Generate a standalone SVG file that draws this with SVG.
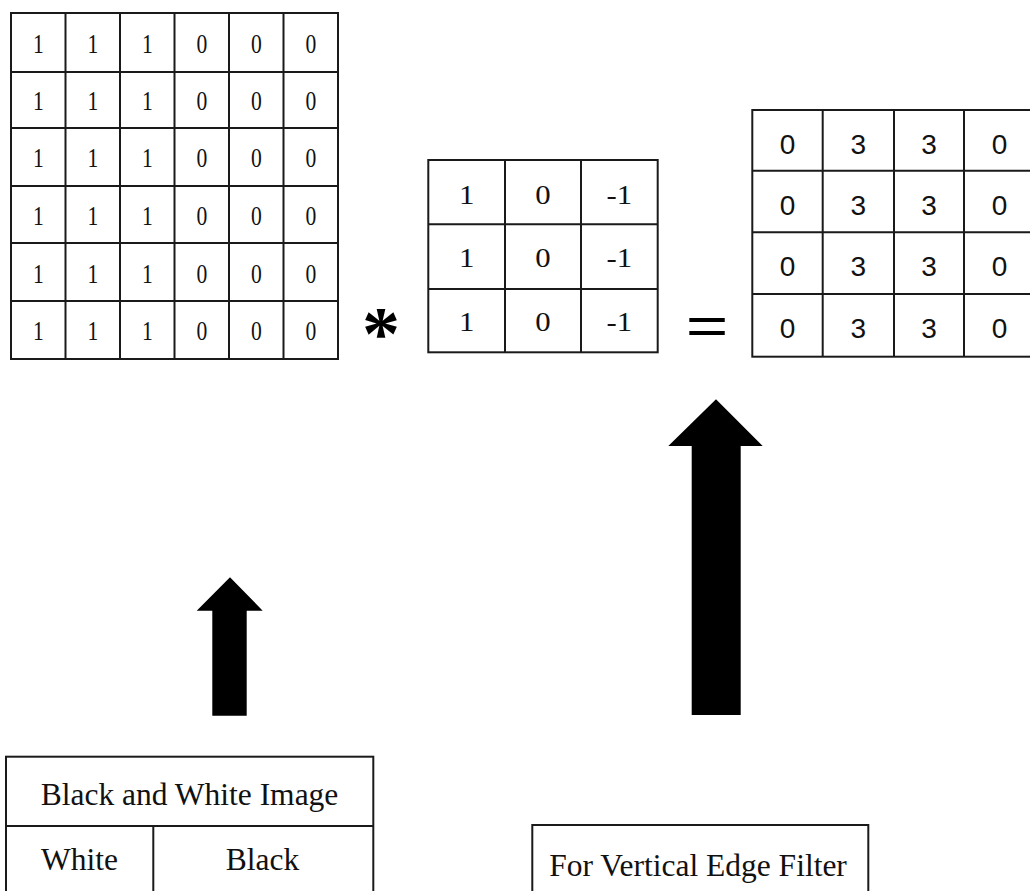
<svg xmlns="http://www.w3.org/2000/svg" width="1030" height="891" viewBox="0 0 1030 891">
  <style>
    .grid { fill: none; stroke: #1a1a1a; stroke-width: 2; }
    .cellnum { font-family: "Liberation Serif", "Times New Roman", serif; font-size: 27px; fill: #111; text-anchor: middle; }
    .kern { font-family: "Liberation Serif", "Times New Roman", serif; font-size: 28px; fill: #111; text-anchor: middle; }
    .outnum { font-family: "Liberation Sans", Arial, sans-serif; font-size: 28px; fill: #111; text-anchor: middle; }
    .label { font-family: "Liberation Serif", "Times New Roman", serif; font-size: 31.5px; fill: #111; text-anchor: middle; }
    .op { fill: #000; text-anchor: middle; }
    .arrow { fill: #000; }
  </style>
  <rect width="1030" height="891" fill="#fff"/>

  <!-- 6x6 input image matrix -->
  <g id="input-matrix">
    <rect class="grid" x="11" y="13" width="327" height="346"/>
    <path class="grid" d="M65.5,13V359M120,13V359M174.5,13V359M229,13V359M283.5,13V359
                          M11,72H338M11,128H338M11,186H338M11,243H338M11,301H338"/>
    <g class="cellnum">
      <text transform="translate(38.3,53.3) scale(0.8,1)">1</text>
      <text transform="translate(92.8,53.3) scale(0.8,1)">1</text>
      <text transform="translate(147.3,53.3) scale(0.8,1)">1</text>
      <text transform="translate(201.8,53.3) scale(0.8,1)">0</text>
      <text transform="translate(256.3,53.3) scale(0.8,1)">0</text>
      <text transform="translate(310.8,53.3) scale(0.8,1)">0</text>

      <text transform="translate(38.3,110) scale(0.8,1)">1</text>
      <text transform="translate(92.8,110) scale(0.8,1)">1</text>
      <text transform="translate(147.3,110) scale(0.8,1)">1</text>
      <text transform="translate(201.8,110) scale(0.8,1)">0</text>
      <text transform="translate(256.3,110) scale(0.8,1)">0</text>
      <text transform="translate(310.8,110) scale(0.8,1)">0</text>

      <text transform="translate(38.3,166.7) scale(0.8,1)">1</text>
      <text transform="translate(92.8,166.7) scale(0.8,1)">1</text>
      <text transform="translate(147.3,166.7) scale(0.8,1)">1</text>
      <text transform="translate(201.8,166.7) scale(0.8,1)">0</text>
      <text transform="translate(256.3,166.7) scale(0.8,1)">0</text>
      <text transform="translate(310.8,166.7) scale(0.8,1)">0</text>

      <text transform="translate(38.3,225) scale(0.8,1)">1</text>
      <text transform="translate(92.8,225) scale(0.8,1)">1</text>
      <text transform="translate(147.3,225) scale(0.8,1)">1</text>
      <text transform="translate(201.8,225) scale(0.8,1)">0</text>
      <text transform="translate(256.3,225) scale(0.8,1)">0</text>
      <text transform="translate(310.8,225) scale(0.8,1)">0</text>

      <text transform="translate(38.3,283.3) scale(0.8,1)">1</text>
      <text transform="translate(92.8,283.3) scale(0.8,1)">1</text>
      <text transform="translate(147.3,283.3) scale(0.8,1)">1</text>
      <text transform="translate(201.8,283.3) scale(0.8,1)">0</text>
      <text transform="translate(256.3,283.3) scale(0.8,1)">0</text>
      <text transform="translate(310.8,283.3) scale(0.8,1)">0</text>

      <text transform="translate(38.3,340) scale(0.8,1)">1</text>
      <text transform="translate(92.8,340) scale(0.8,1)">1</text>
      <text transform="translate(147.3,340) scale(0.8,1)">1</text>
      <text transform="translate(201.8,340) scale(0.8,1)">0</text>
      <text transform="translate(256.3,340) scale(0.8,1)">0</text>
      <text transform="translate(310.8,340) scale(0.8,1)">0</text>
    </g>
  </g>

  <!-- convolution operator -->
  <g id="convolve-sign">
    <text class="op" x="381" y="359" font-family="Liberation Serif, serif" font-weight="bold" font-size="76">*</text>
  </g>

  <!-- 3x3 vertical edge kernel -->
  <g id="kernel">
    <rect class="grid" x="428.3" y="160" width="229.4" height="192.3"/>
    <path class="grid" d="M505,160V352.3M581,160V352.3M428.3,224.3H657.7M428.3,289H657.7"/>
    <g class="kern">
      <text transform="translate(466.7,204) scale(1.1,1)">1</text>
      <text transform="translate(543,204) scale(1.1,1)">0</text>
      <text transform="translate(619.3,204) scale(1.1,1)">-1</text>
      <text transform="translate(466.7,266.7) scale(1.1,1)">1</text>
      <text transform="translate(543,266.7) scale(1.1,1)">0</text>
      <text transform="translate(619.3,266.7) scale(1.1,1)">-1</text>
      <text transform="translate(466.7,330.7) scale(1.1,1)">1</text>
      <text transform="translate(543,330.7) scale(1.1,1)">0</text>
      <text transform="translate(619.3,330.7) scale(1.1,1)">-1</text>
    </g>
  </g>

  <!-- equals operator -->
  <g id="equals-sign">
    <text class="op" transform="translate(707,344) scale(1,0.74)" font-family="Liberation Sans, sans-serif" font-size="73">=</text>
  </g>

  <!-- 4x4 output feature map -->
  <g id="output-matrix">
    <rect class="grid" x="752.3" y="110" width="290" height="246.7"/>
    <path class="grid" d="M822.7,110V356.7M894,110V356.7M964,110V356.7
                          M752.3,170.7H1040M752.3,232.3H1040M752.3,294H1040"/>
    <g class="outnum">
      <text x="787.5" y="153.5">0</text><text x="858.3" y="153.5">3</text><text x="929" y="153.5">3</text><text x="999.5" y="153.5">0</text>
      <text x="787.5" y="214.5">0</text><text x="858.3" y="214.5">3</text><text x="929" y="214.5">3</text><text x="999.5" y="214.5">0</text>
      <text x="787.5" y="276">0</text><text x="858.3" y="276">3</text><text x="929" y="276">3</text><text x="999.5" y="276">0</text>
      <text x="787.5" y="338">0</text><text x="858.3" y="338">3</text><text x="929" y="338">3</text><text x="999.5" y="338">0</text>
    </g>
  </g>

  <!-- legend: black and white image -->
  <g id="bw-legend">
    <rect class="grid" x="6" y="756.7" width="367.3" height="150"/>
    <path class="grid" d="M6,826H373.3M153.3,826V906"/>
    <text class="label" x="189.5" y="805">Black and White Image</text>
    <text class="label" x="79.5" y="870">White</text>
    <text class="label" x="262.5" y="870">Black</text>
  </g>

  <!-- legend: filter caption -->
  <g id="filter-caption">
    <rect class="grid" x="532.3" y="825" width="336" height="80"/>
    <text class="label" x="698" y="876">For Vertical Edge Filter</text>
  </g>

  <!-- block arrows pointing up to the matrices -->
  <g id="connectors">
    <polygon class="arrow" points="230,577.3 262.7,610.7 246.7,610.7 246.7,715.7 212.3,715.7 212.3,610.7 196.7,610.7"/>
    <polygon class="arrow" points="716,399.3 762.7,446 740.7,446 740.7,715 691.7,715 691.7,446 668.3,446"/>
  </g>
</svg>
